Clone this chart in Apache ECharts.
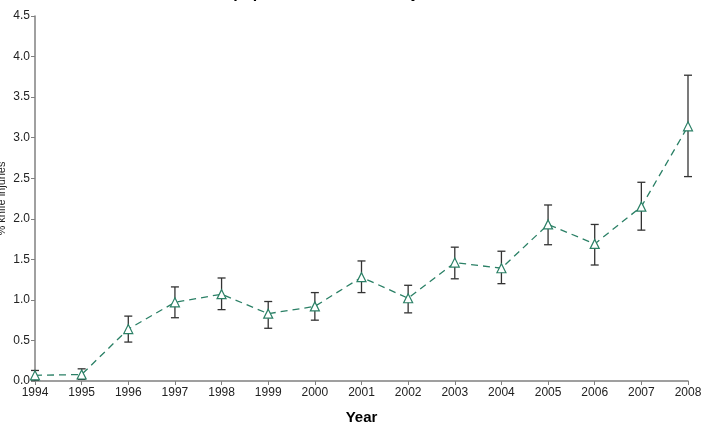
<!DOCTYPE html>
<html>
<head>
<meta charset="utf-8">
<script src="https://cdn.jsdelivr.net/npm/echarts@6/dist/echarts.min.js"></script>
<style>
  html, body { margin: 0; padding: 0; background: #fff; }
  #chart { width: 716px; height: 428px; }
</style>
</head>
<body>
<div id="chart"></div>
<script>
var years = ['1994','1995','1996','1997','1998','1999','2000','2001','2002','2003','2004','2005','2006','2007','2008'];
var pct   = [0.07, 0.08, 0.64, 0.97, 1.07, 0.83, 0.92, 1.28, 1.02, 1.46, 1.39, 1.93, 1.69, 2.15, 3.14];
var lower = [0.01, 0.02, 0.48, 0.78, 0.88, 0.65, 0.75, 1.09, 0.84, 1.26, 1.20, 1.68, 1.43, 1.86, 2.52];
var upper = [0.13, 0.15, 0.80, 1.16, 1.27, 0.98, 1.09, 1.48, 1.18, 1.65, 1.60, 2.17, 1.93, 2.45, 3.77];

var errData = [];
for (var i = 0; i < years.length; i++) {
	errData.push([i, lower[i], upper[i]]);
}

var lineColor = '#2b8066';
var font = 'Liberation Sans, Arial, sans-serif';

var option = {
	animation: false,
	title: {
		text: '% of population with knife injuries',
		left: 190,
		top: -19,
		textStyle: { fontSize: 16, fontWeight: 'bold', color: '#000', fontFamily: font }
	},
	grid: { left: 35, right: 28, top: 16, bottom: 47, containLabel: false, outerBoundsMode: 'none' },
	xAxis: {
		type: 'category',
		data: years,
		boundaryGap: false,
		name: 'Year',
		nameLocation: 'middle',
		nameGap: 29,
		nameMoveOverlap: false,
		nameTextStyle: { fontSize: 15, fontWeight: 'bold', color: '#000', fontFamily: font },
		axisLine: { lineStyle: { color: '#808080', width: 1.5 } },
		axisTick: { alignWithLabel: true, length: 4, lineStyle: { color: '#808080' } },
		axisLabel: { fontSize: 12, color: '#222', fontFamily: font, margin: 6 },
		splitLine: { show: false }
	},
	yAxis: {
		type: 'value',
		min: 0,
		max: 4.5,
		interval: 0.5,
		name: '% knife injuries',
		nameLocation: 'middle',
		nameRotate: 90,
		nameGap: 28,
		nameMoveOverlap: false,
		nameTextStyle: { fontSize: 11, color: '#222', fontFamily: font },
		axisLine: { show: true, lineStyle: { color: '#808080', width: 1.5 } },
		axisTick: { show: true, length: 4, lineStyle: { color: '#808080' } },
		axisLabel: {
			fontSize: 12, color: '#222', fontFamily: font, margin: 5,
			formatter: function (v) { return v.toFixed(1); }
		},
		splitLine: { show: false }
	},
	series: [
		{
			type: 'custom',
			z: 1,
			data: errData,
			renderItem: function (params, api) {
				var x = api.value(0);
				var lo = api.coord([x, api.value(1)]);
				var hi = api.coord([x, api.value(2)]);
				var w = 4;
				var st = { stroke: '#333', lineWidth: 1.3 };
				return {
					type: 'group',
					children: [
						{ type: 'line', shape: { x1: lo[0], y1: lo[1], x2: hi[0], y2: hi[1] }, style: st },
						{ type: 'line', shape: { x1: hi[0] - w, y1: hi[1], x2: hi[0] + w, y2: hi[1] }, style: st },
						{ type: 'line', shape: { x1: lo[0] - w, y1: lo[1], x2: lo[0] + w, y2: lo[1] }, style: st }
					]
				};
			}
		},
		{
			type: 'line',
			z: 2,
			data: pct,
			symbol: 'triangle',
			symbolSize: 9,
			lineStyle: { color: lineColor, width: 1.3, type: [7, 5] },
			itemStyle: { color: '#fff', borderColor: lineColor, borderWidth: 1.2 }
		}
	]
};

var chart = echarts.init(document.getElementById('chart'));
chart.setOption(option);
</script>
</body>
</html>
